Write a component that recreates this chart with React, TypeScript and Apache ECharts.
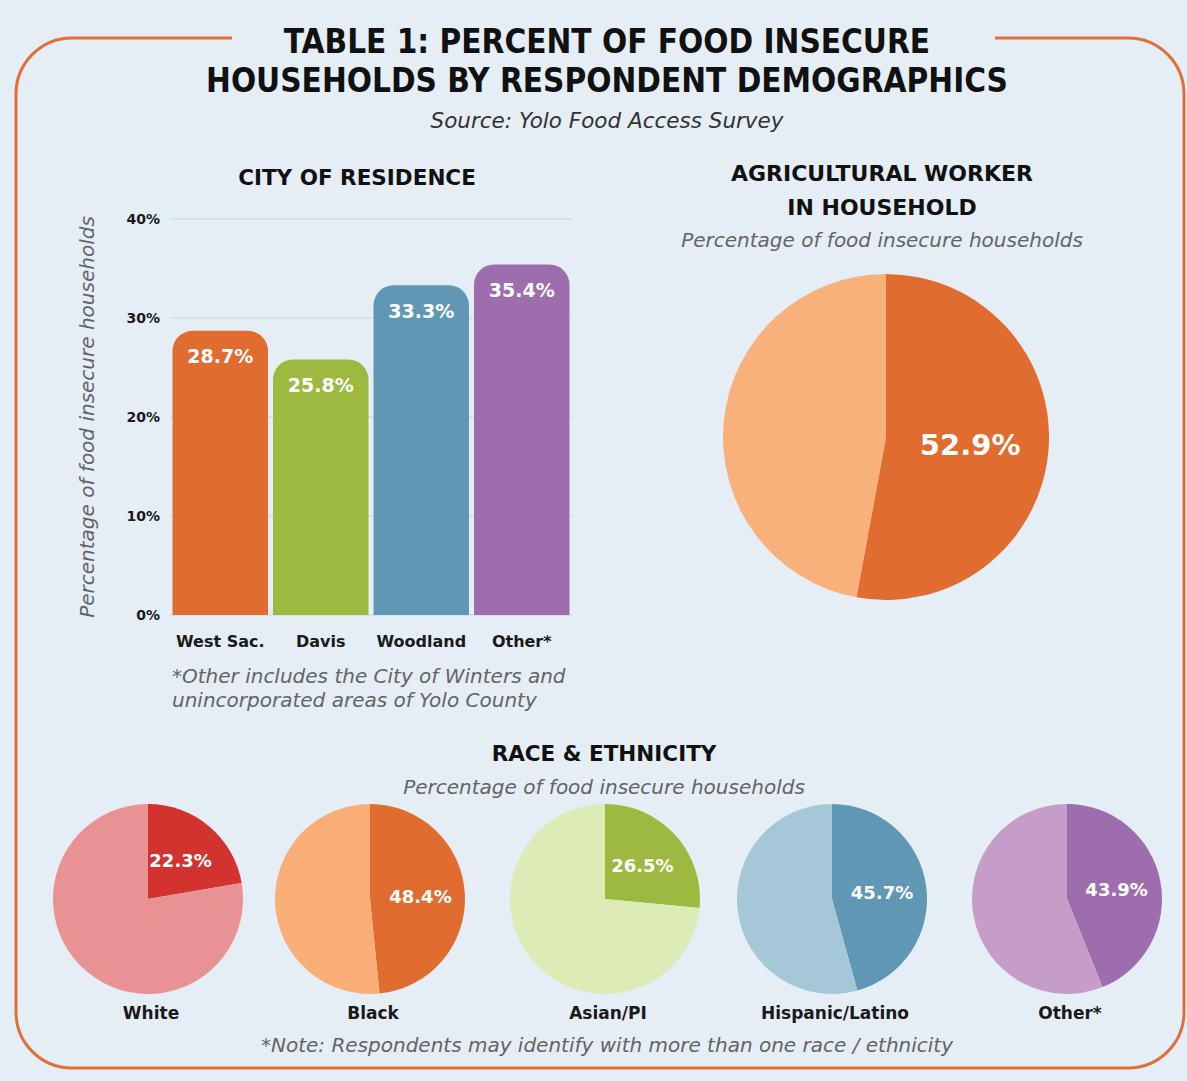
import React, { useEffect, useRef } from 'react';
import * as echarts from 'echarts';

// ---- data ----
const cityCategories = ['West Sac.', 'Davis', 'Woodland', 'Other*'];
const cityValues = [28.7, 25.8, 33.3, 35.4];
const yMin = 0;
const yMax = 40;
const yInterval = 10;
const agWorkerLabel = 'Agricultural worker in household';
const agWorkerValue = 52.9;
const raceCategories = ['White', 'Black', 'Asian/PI', 'Hispanic/Latino', 'Other*'];
const raceValues = [22.3, 48.4, 26.5, 45.7, 43.9];

// ---- styles ----
const BG = '#e5edf5';
const cityColors = ['#e06c2f', '#9cba40', '#5f97b5', '#9e6dae'];
const raceDark = ['#d3332f', '#e06c2f', '#9cba40', '#5f97b5', '#9e6dae'];
const raceLight = ['#e89294', '#f8ae76', '#ddebb6', '#a5c7d8', '#c69dc9'];
const agDark = '#e06c2f';
const agLight = '#f8b17a';
const raceCentersX = [148, 370, 605, 832, 1067];
const raceCenterY = 899;
const raceRadius = 95;

const HEAD = '"DejaVu Sans", Verdana, sans-serif';
const ITAL = '"DejaVu Sans", Verdana, sans-serif';
const ITAL_COLOR = '#646464';

export default function App() {
  const ref = useRef<HTMLDivElement>(null);
  useEffect(() => {
    if (!ref.current) return;
    const chart = echarts.init(ref.current, undefined, { renderer: 'svg' });

    const racePies: any[] = raceValues.map((v, i) => ({
      type: 'pie',
      name: raceCategories[i],
      center: [raceCentersX[i], raceCenterY],
      radius: raceRadius,
      startAngle: 90,
      clockwise: true,
      silent: true,
      label: { show: false },
      labelLine: { show: false },
      itemStyle: { borderWidth: 0 },
      data: [
        {
          name: raceCategories[i] + ' food insecure',
          value: v,
          itemStyle: { color: raceDark[i] },
          label: {
            show: true,
            position: 'inside',
            formatter: (p: any) => p.value.toFixed(1) + '%',
            color: '#ffffff',
            fontSize: 18,
            fontWeight: 'bold',
            fontFamily: HEAD,
          },
        },
        { name: raceCategories[i] + ' other', value: +(100 - v).toFixed(1), itemStyle: { color: raceLight[i] } },
      ],
    }));

    const raceLabels = raceCategories.map((c, i) => ({
      type: 'text',
      x: raceCentersX[i] + 3,
      y: 1013,
      style: { text: c, align: 'center', verticalAlign: 'middle', fontSize: 17, fontWeight: 'bold', fontFamily: HEAD, fill: '#1a1a1a' },
    }));

    const option: any = {
      animation: false,
      backgroundColor: BG,
      grid: { left: 170, top: 219, width: 402, height: 396, containLabel: false },
      xAxis: {
        type: 'category',
        data: cityCategories,
        axisLine: { show: false },
        axisTick: { show: false },
        axisLabel: { interval: 0, hideOverlap: false, color: '#1a1a1a', fontSize: 16, fontWeight: 'bold', fontFamily: HEAD, margin: 18 },
      },
      yAxis: {
        type: 'value',
        min: yMin,
        max: yMax,
        interval: yInterval,
        name: 'Percentage of food insecure households',
        nameLocation: 'middle',
        nameGap: 73,
        nameRotate: 90,
        nameTextStyle: { color: ITAL_COLOR, fontSize: 20, fontStyle: 'italic', fontFamily: ITAL },
        axisLine: { show: false },
        axisTick: { show: false },
        axisLabel: { formatter: '{value}%', color: '#1a1a1a', fontSize: 14, fontWeight: 'bold', fontFamily: HEAD, margin: 10 },
        splitLine: { lineStyle: { color: '#d3dbe3', width: 1.5 } },
      },
      series: [
        {
          type: 'bar',
          data: cityValues.map((v, i) => ({ value: v, itemStyle: { color: cityColors[i] } })),
          barCategoryGap: '5%',
          itemStyle: { borderRadius: [20, 20, 0, 0] },
          label: {
            show: true,
            position: 'insideTop',
            distance: 16,
            formatter: (p: any) => p.value.toFixed(1) + '%',
            color: '#ffffff',
            fontSize: 19,
            fontWeight: 'bold',
            fontFamily: HEAD,
          },
          silent: true,
        },
        {
          type: 'pie',
          name: agWorkerLabel,
          center: [886, 437],
          radius: 163,
          startAngle: 90,
          clockwise: true,
          silent: true,
          label: { show: false },
          labelLine: { show: false },
          itemStyle: { borderWidth: 0 },
          data: [
            {
              name: 'Yes',
              value: agWorkerValue,
              itemStyle: { color: agDark },
              label: {
                show: true,
                position: 'inside',
                formatter: (p: any) => p.value.toFixed(1) + '%',
                color: '#ffffff',
                fontSize: 29,
                fontWeight: 'bold',
                fontFamily: HEAD,
              },
            },
            { name: 'No', value: +(100 - agWorkerValue).toFixed(1), itemStyle: { color: agLight } },
          ],
        },
        ...racePies,
      ],
      graphic: [
        {
          type: 'rect',
          z: -10,
          shape: { x: 16, y: 38, width: 1168, height: 1030, r: 56 },
          style: { fill: 'none', stroke: '#e0703a', lineWidth: 3 },
        },
        {
          type: 'rect',
          z: -9,
          shape: { x: 232, y: 28, width: 763, height: 20 },
          style: { fill: BG },
        },
        {
          type: 'text',
          x: 607,
          y: 61,
          style: {
            text: 'TABLE 1: PERCENT OF FOOD INSECURE\nHOUSEHOLDS BY RESPONDENT DEMOGRAPHICS',
            align: 'center',
            verticalAlign: 'middle',
            fontSize: 33,
            lineHeight: 39,
            fontWeight: 900,
            fontFamily: '"DejaVu Sans Condensed", "DejaVu Sans", sans-serif',
            fill: '#111111',
          },
        },
        {
          type: 'text',
          x: 607,
          y: 120,
          style: { text: 'Source: Yolo Food Access Survey', align: 'center', verticalAlign: 'middle', fontSize: 21.5, fontStyle: 'italic', fontFamily: ITAL, fill: '#333333' },
        },
        {
          type: 'text',
          x: 357,
          y: 177,
          style: { text: 'CITY OF RESIDENCE', align: 'center', verticalAlign: 'middle', fontSize: 21.5, fontWeight: 'bold', fontFamily: HEAD, fill: '#111111' },
        },
        {
          type: 'text',
          x: 172,
          y: 688,
          style: {
            text: '*Other includes the City of Winters and\nunincorporated areas of Yolo County',
            align: 'left',
            verticalAlign: 'middle',
            fontSize: 20,
            lineHeight: 24,
            fontStyle: 'italic',
            fontFamily: ITAL,
            fill: ITAL_COLOR,
          },
        },
        {
          type: 'text',
          x: 882,
          y: 190,
          style: {
            text: 'AGRICULTURAL WORKER\nIN HOUSEHOLD',
            align: 'center',
            verticalAlign: 'middle',
            fontSize: 22,
            lineHeight: 34,
            fontWeight: 'bold',
            fontFamily: HEAD,
            fill: '#111111',
          },
        },
        {
          type: 'text',
          x: 882,
          y: 240,
          style: { text: 'Percentage of food insecure households', align: 'center', verticalAlign: 'middle', fontSize: 20, fontStyle: 'italic', fontFamily: ITAL, fill: ITAL_COLOR },
        },
        {
          type: 'text',
          x: 604,
          y: 753,
          style: { text: 'RACE & ETHNICITY', align: 'center', verticalAlign: 'middle', fontSize: 21.5, fontWeight: 'bold', fontFamily: HEAD, fill: '#111111' },
        },
        {
          type: 'text',
          x: 604,
          y: 787,
          style: { text: 'Percentage of food insecure households', align: 'center', verticalAlign: 'middle', fontSize: 20, fontStyle: 'italic', fontFamily: ITAL, fill: ITAL_COLOR },
        },
        ...raceLabels,
        {
          type: 'text',
          x: 607,
          y: 1045,
          style: {
            text: '*Note: Respondents may identify with more than one race / ethnicity',
            align: 'center',
            verticalAlign: 'middle',
            fontSize: 20,
            fontStyle: 'italic',
            fontFamily: ITAL,
            fill: ITAL_COLOR,
          },
        },
      ],
    };
    chart.setOption(option);
    return () => chart.dispose();
  }, []);

  return <div ref={ref} style={{ position: 'fixed', left: 0, top: 0, width: 1187, height: 1081 }} />;
}
